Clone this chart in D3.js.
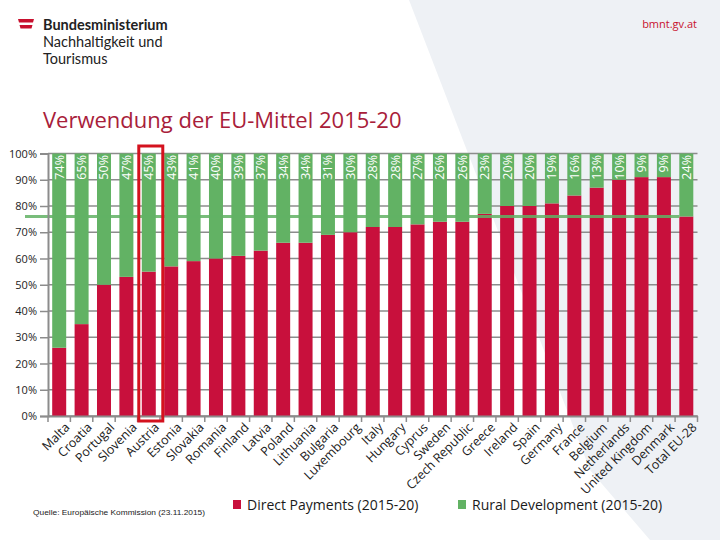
<!DOCTYPE html>
<html>
<head>
<meta charset="utf-8">
<script src="https://cdn.jsdelivr.net/npm/d3@7"></script>
<style>
  html, body { margin: 0; padding: 0; background: #ffffff; }
  svg { display: block; }
</style>
</head>
<body>
<svg id="chart" width="720" height="540"></svg>
<script>
const categories = ["Malta","Croatia","Portugal","Slovenia","Austria","Estonia","Slovakia","Romania","Finland","Latvia","Poland","Lithuania","Bulgaria","Luxembourg","Italy","Hungary","Cyprus","Sweden","Czech Republic","Greece","Ireland","Spain","Germany","France","Belgium","Netherlands","United Kingdom","Denmark","Total EU-28"];
const directPayments = [26,35,50,53,55,57,59,60,61,63,66,66,69,70,72,72,73,74,74,77,80,80,81,84,87,90,91,91,76];
const ruralDevelopment = [74,65,50,47,45,43,41,40,39,37,34,34,31,30,28,28,27,26,26,23,20,20,19,16,13,10,9,9,24];
const yTickValues = [0,10,20,30,40,50,60,70,80,90,100];
const yTickLabels = ["0%","10%","20%","30%","40%","50%","60%","70%","80%","90%","100%"];
const averageLine = 76;
const highlighted = "Austria";
const seriesNames = ["Direct Payments (2015-20)","Rural Development (2015-20)"];

const RED = "#c8103c", GREEN = "#62b264", GRID = "#8c8c8c";
const svg = d3.select("#chart");

// background diagonal shape
svg.append("path")
  .attr("d", "M409,0 L720,0 L720,540 L650,540 L590,470 Z")
  .attr("fill", "#eef1f5");

// header logo
svg.append("path").attr("d", "M18,19 L34,19 L33,22.5 L19,22.5 Z").attr("fill", "#c8102e");
svg.append("path").attr("d", "M19.5,25 L32.5,25 L31.5,28.5 L20.5,28.5 Z").attr("fill", "#c8102e");
const hdr = svg.append("g").attr("font-family", "Lato, 'Open Sans', sans-serif").attr("fill", "#222");
hdr.append("text").attr("x", 43).attr("y", 30).attr("font-size", 14.5).attr("font-weight", "bold").text("Bundesministerium");
hdr.append("text").attr("x", 43).attr("y", 47).attr("font-size", 14.5).text("Nachhaltigkeit und");
hdr.append("text").attr("x", 43).attr("y", 64).attr("font-size", 14.5).text("Tourismus");
svg.append("text").attr("x", 697).attr("y", 28).attr("text-anchor", "end")
  .attr("font-family", "'Open Sans', sans-serif").attr("font-size", 11).attr("fill", "#c8102e").text("bmnt.gv.at");

// title
svg.append("text").attr("x", 43).attr("y", 128)
  .attr("font-family", "'Open Sans', sans-serif").attr("font-size", 22).attr("fill", "#a8203a")
  .text("Verwendung der EU-Mittel 2015-20");

// scales
const x = d3.scaleBand().domain(categories).range([48, 697.5]).paddingInner(0.375).paddingOuter(0.1875);
const y = d3.scaleLinear().domain([0, 100]).range([416, 153.5]);

// gridlines
svg.append("g").selectAll("line").data(yTickValues).join("line")
  .attr("x1", 48).attr("x2", 697.5)
  .attr("y1", d => y(d)).attr("y2", d => y(d))
  .attr("stroke", GRID).attr("stroke-width", 1.5);

// bars
const data = categories.map((c, i) => ({ c, dp: directPayments[i], rd: ruralDevelopment[i] }));
const bars = svg.append("g");
bars.selectAll("rect.dp").data(data).join("rect").attr("class", "dp")
  .attr("x", d => x(d.c)).attr("width", x.bandwidth())
  .attr("y", d => y(d.dp)).attr("height", d => y(0) - y(d.dp))
  .attr("fill", RED);
bars.selectAll("rect.rd").data(data).join("rect").attr("class", "rd")
  .attr("x", d => x(d.c)).attr("width", x.bandwidth())
  .attr("y", d => y(d.dp + d.rd)).attr("height", d => y(d.dp) - y(d.dp + d.rd))
  .attr("fill", GREEN);

// value labels
bars.selectAll("text.lbl").data(data).join("text").attr("class", "lbl")
  .attr("transform", d => `translate(${x(d.c) + x.bandwidth() / 2 + 4.5},${y(d.dp + d.rd) + 1.5}) rotate(-90)`)
  .attr("text-anchor", "end")
  .attr("font-family", "'Open Sans', sans-serif").attr("font-size", 12.5).attr("fill", "#ffffff")
  .text(d => d.rd + "%");

// average line
svg.append("line")
  .attr("x1", 25).attr("x2", x(categories[categories.length - 1]))
  .attr("y1", y(averageLine)).attr("y2", y(averageLine))
  .attr("stroke", GREEN).attr("stroke-opacity", 0.85).attr("stroke-width", 3);

// y axis
const yAxis = svg.append("g").attr("transform", "translate(48,0)")
  .call(d3.axisLeft(y).tickValues(yTickValues).tickFormat((d, i) => yTickLabels[i]).tickSize(8).tickPadding(3));
yAxis.select(".domain").attr("stroke", GRID).attr("stroke-width", 2);
yAxis.selectAll(".tick line").attr("stroke", GRID).attr("stroke-width", 1.5);
yAxis.selectAll(".tick text").attr("font-family", "'Open Sans', sans-serif").attr("font-size", 11).attr("fill", "#222");

// x axis
const xAxis = svg.append("g").attr("transform", `translate(0,${y(0)})`)
  .call(d3.axisBottom(x).tickSize(0));
xAxis.select(".domain").attr("stroke", GRID).attr("stroke-width", 2);
xAxis.selectAll(".tick text")
  .attr("font-family", "'Open Sans', sans-serif").attr("font-size", 12.5).attr("fill", "#1a1a1a")
  .attr("text-anchor", "end").attr("y", 0).attr("dy", "0.7em")
  .attr("transform", "translate(5,6) rotate(-45)");
const half = x.step() * x.paddingInner() / 2;
svg.append("g").selectAll("line").data(categories.concat(["__end"])).join("line")
  .attr("x1", (d, i) => i < categories.length ? x(d) - half : x(categories[i - 1]) + x.bandwidth() + half)
  .attr("x2", (d, i) => i < categories.length ? x(d) - half : x(categories[i - 1]) + x.bandwidth() + half)
  .attr("y1", y(0)).attr("y2", y(0) + 6)
  .attr("stroke", GRID).attr("stroke-width", 1.5);

// highlight box
svg.append("rect")
  .attr("x", x(highlighted) - 3).attr("width", x.bandwidth() + 10)
  .attr("y", 146).attr("height", 275)
  .attr("fill", "none").attr("stroke", "#d4121e").attr("stroke-width", 3);

// source
svg.append("text").attr("x", 33).attr("y", 515)
  .attr("font-family", "'Liberation Sans', Arial, sans-serif").attr("font-size", 8).attr("fill", "#222")
  .attr("textLength", 172).attr("lengthAdjust", "spacingAndGlyphs")
  .text("Quelle: Europäische Kommission (23.11.2015)");

// legend
const legend = svg.append("g").attr("font-family", "'Open Sans', sans-serif").attr("font-size", 14).attr("fill", "#1a1a1a");
const legX = [233, 458];
[RED, GREEN].forEach((col, i) => {
  legend.append("rect").attr("x", legX[i]).attr("y", 500).attr("width", 8).attr("height", 9).attr("fill", col);
  legend.append("text").attr("x", legX[i] + 14).attr("y", 510).text(seriesNames[i]);
});
</script>
</body>
</html>
